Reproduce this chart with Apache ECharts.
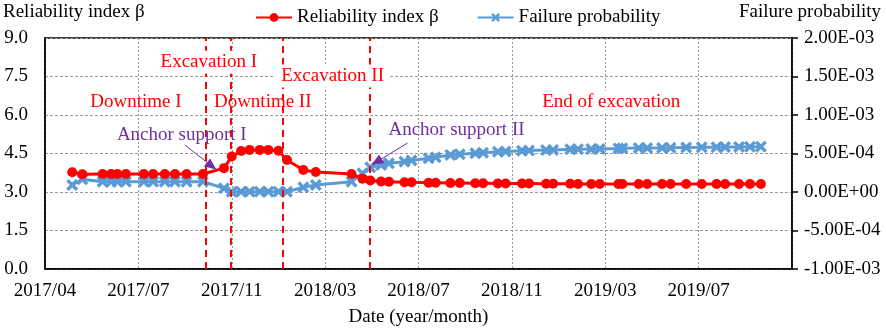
<!DOCTYPE html>
<html>
<head>
<meta charset="utf-8">
<script src="https://cdn.jsdelivr.net/npm/echarts@6/dist/echarts.min.js"></script>
<style>
  html, body { margin: 0; padding: 0; background: #fff; }
  #chart { width: 886px; height: 329px; }
</style>
</head>
<body>
<div id="chart"></div>
<script>
// measurement dates
var dates = ['2017-05-06', '2017-05-19', '2017-06-14', '2017-06-25', '2017-07-03', '2017-07-14',
  '2017-08-06', '2017-08-18', '2017-09-02', '2017-09-15', '2017-09-30', '2017-10-21',
  '2017-11-17', '2017-11-27', '2017-12-09', '2017-12-20', '2018-01-02', '2018-01-13',
  '2018-01-26', '2018-02-06', '2018-02-27', '2018-03-15', '2018-04-30', '2018-05-14',
  '2018-05-24', '2018-06-07', '2018-06-17', '2018-07-07', '2018-07-16', '2018-08-07',
  '2018-08-16', '2018-09-04', '2018-09-16', '2018-10-06', '2018-10-16', '2018-11-04',
  '2018-11-14', '2018-12-05', '2018-12-14', '2019-01-05', '2019-01-14', '2019-02-05',
  '2019-02-15', '2019-03-04', '2019-03-15', '2019-04-08', '2019-04-13', '2019-05-04',
  '2019-05-15', '2019-06-03', '2019-06-14', '2019-07-04', '2019-07-24', '2019-08-12',
  '2019-08-23', '2019-09-10', '2019-09-24', '2019-10-08'];

var beta = [3.77, 3.69, 3.70, 3.70, 3.70, 3.70, 3.70, 3.70, 3.70, 3.70, 3.70, 3.70,
  3.93, 4.38, 4.60, 4.64, 4.64, 4.64, 4.61, 4.25, 3.86, 3.78, 3.70, 3.52,
  3.45, 3.41, 3.40, 3.38, 3.38, 3.36, 3.36, 3.35, 3.35, 3.34, 3.34, 3.33,
  3.33, 3.33, 3.33, 3.32, 3.32, 3.32, 3.31, 3.31, 3.31, 3.31, 3.31, 3.31,
  3.31, 3.31, 3.31, 3.31, 3.31, 3.31, 3.31, 3.31, 3.31, 3.31];

var pf = [0.91e-4, 1.65e-4, 1.34e-4, 1.34e-4, 1.34e-4, 1.34e-4, 1.34e-4, 1.34e-4, 1.34e-4, 1.34e-4, 1.34e-4, 1.34e-4,
  0.48e-4, 0.04e-4, 0.04e-4, 0.04e-4, 0.04e-4, 0.04e-4, 0.04e-4, 0.04e-4, 0.61e-4, 0.91e-4, 1.34e-4, 2.43e-4,
  3.20e-4, 3.50e-4, 3.73e-4, 3.94e-4, 4.10e-4, 4.38e-4, 4.51e-4, 4.81e-4, 4.90e-4, 5.03e-4, 5.10e-4, 5.23e-4,
  5.26e-4, 5.36e-4, 5.38e-4, 5.45e-4, 5.47e-4, 5.55e-4, 5.56e-4, 5.58e-4, 5.60e-4, 5.66e-4, 5.68e-4, 5.70e-4,
  5.71e-4, 5.73e-4, 5.74e-4, 5.78e-4, 5.80e-4, 5.82e-4, 5.83e-4, 5.85e-4, 5.87e-4, 5.88e-4];

// construction stage boundaries
var eventDates = ['2017-10-25', '2017-11-26', '2018-01-31', '2018-05-23'];

var tickLabels = ['2017/04', '2017/07', '2017/11', '2018/03', '2018/07', '2018/11', '2019/03', '2019/07'];

var startDate = '2017-04-01';
var DAY = 86400000;
function dayOf(d) {
  return (Date.parse(d) - Date.parse(startDate)) / DAY;
}

var FONT = "'Liberation Serif', 'Times New Roman', serif";
var FS = 19;
var RED = '#ff0000';
var BLUE = '#5b9bd5';
var PURPLE = '#7030a0';
var crossPath = 'path://M2,0L5,3L8,0L10,2L7,5L10,8L8,10L5,7L2,10L0,8L3,5L0,2Z';

function sci(v) {
  var parts = v.toExponential(2).split('e');
  var e = parseInt(parts[1], 10);
  return parts[0] + 'E' + (e < 0 ? '-' : '+') + String(Math.abs(e)).padStart(2, '0');
}

function textMark(name, x, y, color, bg) {
  return {
    name: name,
    coord: [x, y],
    symbol: 'rect',
    symbolSize: 1,
    itemStyle: { color: 'rgba(0,0,0,0)' },
    label: {
      show: true,
      position: 'inside',
      formatter: name,
      color: color,
      fontFamily: FONT,
      fontSize: FS,
      backgroundColor: bg || 'transparent',
      padding: [2, 6]
    }
  };
}

function arrow(x1, y1, x2, y2) {
  return [{ coord: [x1, y1] }, { coord: [x2, y2] }];
}

var chart = echarts.init(document.getElementById('chart'));

var option = {
  animation: false,
  textStyle: { fontFamily: FONT },
  grid: {
    left: 45,
    right: 94,
    top: 38,
    bottom: 60,
    outerBoundsMode: 'none',
    containLabel: false,
    show: true,
    borderColor: '#000',
    borderWidth: 1.5,
    backgroundColor: 'transparent'
  },
  legend: {
    data: ['Reliability index β', 'Failure probability'],
    left: 250,
    top: 3,
    itemWidth: 36,
    itemHeight: 11,
    itemGap: 38,
    textStyle: { fontFamily: FONT, fontSize: FS, color: '#000' }
  },
  graphic: [
    { type: 'text', left: 3, top: 3, style: { text: 'Reliability index β', font: FS + 'px ' + FONT, fill: '#000' } },
    { type: 'text', right: 5, top: 3, style: { text: 'Failure probability', font: FS + 'px ' + FONT, fill: '#000' } }
  ],
  xAxis: {
    type: 'value',
    min: 0,
    max: 960,
    interval: 120,
    name: 'Date (year/month)',
    nameLocation: 'middle',
    nameGap: 39,
    nameTextStyle: { fontFamily: FONT, fontSize: FS, color: '#000' },
    axisLine: { lineStyle: { color: '#000', width: 1.5 } },
    axisTick: { show: false },
    axisLabel: {
      margin: 13,
      fontFamily: FONT,
      fontSize: FS,
      color: '#000',
      formatter: function (v) {
        return tickLabels[Math.round(v / 120)] || '';
      }
    },
    splitLine: { show: true, lineStyle: { color: '#999', type: [2, 2], width: 1 } }
  },
  yAxis: [
    {
      type: 'value',
      min: 0,
      max: 9,
      interval: 1.5,
      axisLine: { show: true, lineStyle: { color: '#000', width: 1.5 } },
      axisTick: { show: false },
      axisLabel: {
        margin: 17,
        fontFamily: FONT,
        fontSize: FS,
        color: '#000',
        formatter: function (v) { return v.toFixed(1); }
      },
      splitLine: { show: true, lineStyle: { color: '#999', type: [3, 2], width: 1 } }
    },
    {
      type: 'value',
      min: -1e-3,
      max: 2e-3,
      interval: 5e-4,
      position: 'right',
      axisLine: { show: true, lineStyle: { color: '#000', width: 1.5 } },
      axisTick: { show: true, inside: false, length: 6, lineStyle: { color: '#000', width: 1.5 } },
      axisLabel: {
        margin: 12,
        fontFamily: FONT,
        fontSize: FS,
        color: '#000',
        formatter: sci
      },
      splitLine: { show: false }
    }
  ],
  series: [
    {
      name: 'Reliability index β',
      type: 'line',
      yAxisIndex: 0,
      data: dates.map(function (d, i) { return [dayOf(d), beta[i]]; }),
      symbol: 'circle',
      symbolSize: 10,
      lineStyle: { color: RED, width: 3 },
      itemStyle: { color: RED },
      z: 3,
      markLine: {
        silent: true,
        symbol: 'none',
        label: { show: false },
        lineStyle: { color: RED, type: [7, 5], width: 2 },
        data: eventDates.map(function (d) { return { xAxis: dayOf(d) }; })
      }
    },
    {
      name: 'Failure probability',
      type: 'line',
      yAxisIndex: 1,
      data: dates.map(function (d, i) { return [dayOf(d), pf[i]]; }),
      symbol: crossPath,
      symbolSize: 12,
      lineStyle: { color: BLUE, width: 3 },
      itemStyle: { color: BLUE },
      z: 2
    },
    {
      name: 'notes',
      type: 'line',
      yAxisIndex: 0,
      data: [],
      z: 5,
      markPoint: {
        silent: true,
        data: [
          textMark('Excavation I', 210.5, 8.06, RED, '#fff'),
          textMark('Excavation II', 369.6, 7.52, RED, '#fff'),
          textMark('Downtime I', 116.8, 6.5, RED),
          textMark('Downtime II', 279.8, 6.5, RED),
          textMark('End of excavation', 727.7, 6.5, RED, '#fff'),
          textMark('Anchor support I', 175.8, 5.22, PURPLE),
          textMark('Anchor support II', 528.8, 5.42, PURPLE)
        ]
      },
      markLine: {
        silent: true,
        symbol: ['none', 'triangle'],
        symbolSize: [10, 12],
        label: { show: false },
        lineStyle: { color: PURPLE, type: 'solid', width: 1 },
        data: [
          arrow(179.7, 4.83, 214.3, 4.01),
          arrow(465.9, 4.91, 426.1, 4.17)
        ]
      }
    }
  ]
};

chart.setOption(option);
window.addEventListener('resize', function () {
  chart.resize();
});
</script>
</body>
</html>
